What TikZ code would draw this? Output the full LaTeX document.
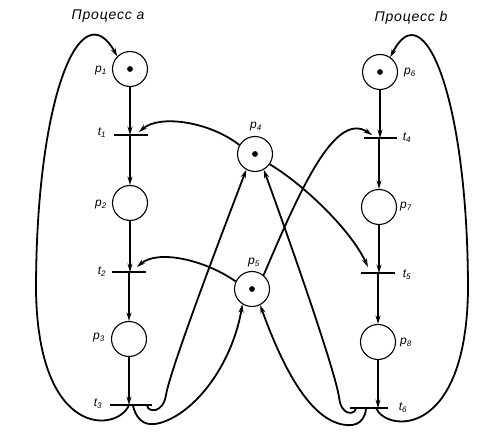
\documentclass[tikz,border=0pt]{standalone}
\usepackage{fontspec}
\setmainfont{Liberation Sans}
\newfontfamily\ttlfont[LetterSpace=6]{Liberation Sans}
\usetikzlibrary{arrows.meta,calc}
\tikzset{
  place/.style={circle, draw, line width=1.1pt, minimum size=35pt, inner sep=0pt},
  marked/.style={place, path picture={\fill (path picture bounding box.center) circle (2.9pt);}},
  trans/.style={rectangle, fill=black, inner sep=0pt, minimum height=1.5pt, minimum width=#1},
  trans/.default=34pt,
  arc/.style={line width=1.8pt, -{Stealth[length=8.5pt,width=5pt]}},
  lbl/.style={font=\fontsize{12}{14}\selectfont\itshape, inner sep=0pt},
  ttl/.style={font=\fontsize{14}{17}\selectfont\ttlfont\itshape, inner sep=0pt}
}
\begin{document}
\begin{tikzpicture}[x=1pt,y=-1pt]
\useasboundingbox (0,0) rectangle (499,433);
% titles
\node[ttl] (ta) at (108,16) {Процесс a};
\node[ttl] (tb) at (411,18) {Процесс b};
% places
\node[marked] (p1) at (130,69) {};
\node[place]  (p2) at (130,203) {};
\node[place]  (p3) at (129,339) {};
\node[marked] (p4) at (255,154) {};
\node[marked] (p5) at (252,289) {};
\node[marked] (p6) at (380,72) {};
\node[place]  (p7) at (379,207) {};
\node[place]  (p8) at (378,342) {};
% transitions
\node[trans=34pt] (t1) at (131,135) {};
\node[trans=34pt] (t2) at (129,272) {};
\node[trans=42pt] (t3) at (131,405) {};
\node[trans=33pt] (t4) at (380,138) {};
\node[trans=34pt] (t5) at (378,273) {};
\node[trans=38pt] (t6) at (369,408) {};
% labels
\node[lbl] (lp1) at (101,71) {p\textsubscript{1}};
\node[lbl] (lt1) at (102,133) {t\textsubscript{1}};
\node[lbl] (lp2) at (101,205) {p\textsubscript{2}};
\node[lbl] (lt2) at (102,272) {t\textsubscript{2}};
\node[lbl] (lp3) at (99,338) {p\textsubscript{3}};
\node[lbl] (lt3) at (98,404) {t\textsubscript{3}};
\node[lbl] (lp4) at (256,127) {p\textsubscript{4}};
\node[lbl] (lp5) at (254,263) {p\textsubscript{5}};
\node[lbl] (lp6) at (410,73) {p\textsubscript{6}};
\node[lbl] (lt4) at (407,138) {t\textsubscript{4}};
\node[lbl] (lp7) at (406,207) {p\textsubscript{7}};
\node[lbl] (lt5) at (407,275) {t\textsubscript{5}};
\node[lbl] (lp8) at (406,343) {p\textsubscript{8}};
\node[lbl] (lt6) at (403,408) {t\textsubscript{6}};
% process a chain
\draw[arc] (p1.south) -- (p1.south |- t1.center);
\draw[arc] (p2.north |- t1.center) -- (p2.north);
\draw[arc] (p2.south) -- (p2.south |- t2.center);
\draw[arc] (p3.north |- t2.center) -- (p3.north);
\draw[arc] (p3.south) -- (p3.south |- t3.center);
% process b chain
\draw[arc] (p6.south) -- (p6.south |- t4.center);
\draw[arc] (p7.north |- t4.center) -- (p7.north);
\draw[arc] (p7.south) -- (p7.south |- t5.center);
\draw[arc] (p8.north |- t5.center) -- (p8.north);
\draw[arc] (p8.south) -- (p8.south |- t6.center);
% big loops
\draw[arc] (p3.south |- t3.center) .. controls (118,432) and (38,440) .. (36,290)
           .. controls (36,100) and (80,-10) .. (p1.135);
\draw[arc] ($(t6.center)+(7,0)$) .. controls (386,432) and (466,440) .. (468,290)
           .. controls (468,100) and (424,-10) .. (p6.55);
% semaphores p4, p5 -> transitions
\draw[arc] (p4.150) .. controls (210,122) and (160,114) .. ($(t1.center)+(8,-3)$);
\draw[arc] (p5.155) .. controls (205,260) and (158,249) .. ($(t2.center)+(8,-5)$);
\draw[arc] (p4.-35) .. controls (300,182) and (350,228) .. ($(t5.center)+(-10,-6)$);
\draw[arc] (p5.50) .. controls (300,190) and (335,110) .. ($(t4.center)+(-8,-3)$);
% transitions -> semaphores
\draw[arc] ($(t3.east)+(-5,1)$) .. controls (148,412) and (163,414) .. (166,395)
           .. controls (170,370) and (222,233) .. (p4.241);
\draw[arc] ($(t3.center)+(2,1)$) .. controls (138,424) and (148,426) .. (160,423)
           .. controls (195,413) and (232,365) .. (p5.238);
\draw[arc] ($(t6.west)+(6,1)$) .. controls (354,415) and (341,416) .. (339,397)
           .. controls (335,370) and (287,233) .. (p4.299);
\draw[arc] ($(t6.center)+(-3,1)$) .. controls (364,425) and (352,428) .. (337,423)
           .. controls (305,412) and (280,360) .. (p5.297);
\end{tikzpicture}
\end{document}
